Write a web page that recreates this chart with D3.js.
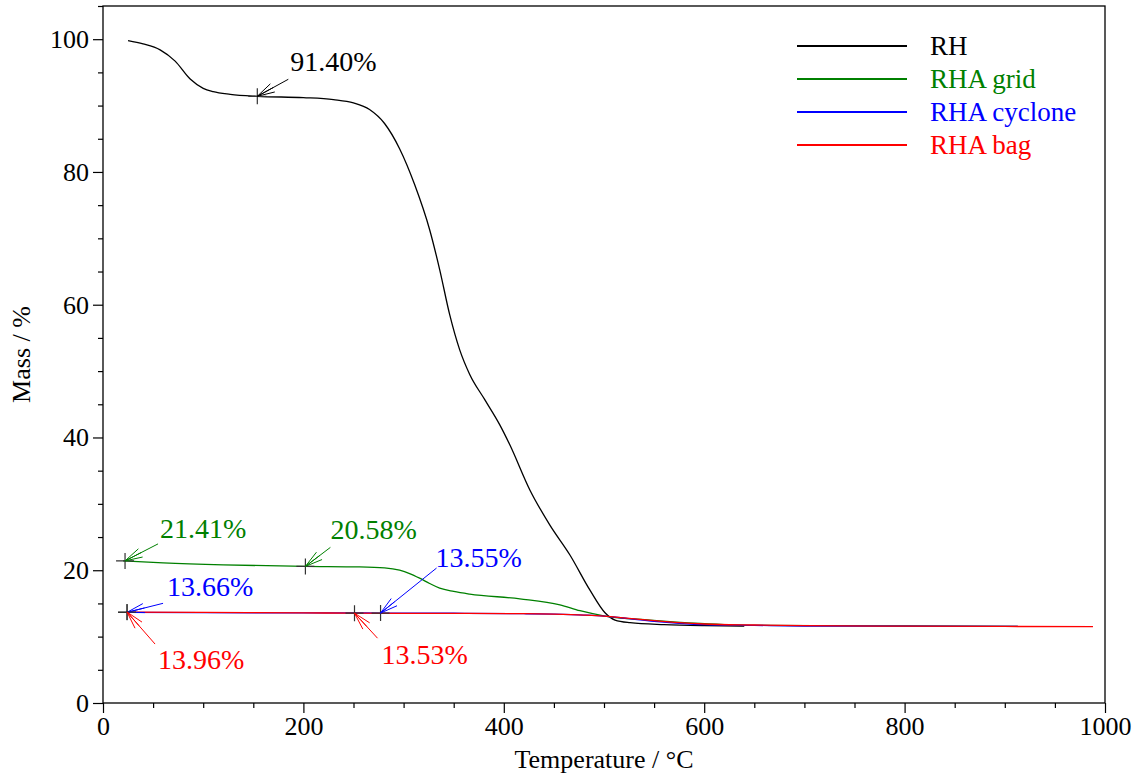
<!DOCTYPE html>
<html>
<head>
<meta charset="utf-8">
<script src="https://cdn.jsdelivr.net/npm/d3@7"></script>
<style>
  body { margin: 0; background: #fff; }
  text { font-family: "Liberation Serif", "Times New Roman", serif; }
</style>
</head>
<body>
<div id="viz"></div>
<script>
const width = 1143;
const height = 774;
const margin = {top: 6, right: 38, bottom: 71, left: 103};

// Temperature (°C) and mass (%)
const rhTemp = [25, 40, 57, 72, 87, 100, 110, 127, 154, 200, 230, 250, 266, 281, 296, 311, 326, 336, 346, 356, 366, 381, 396, 406, 426, 446, 466, 486, 501, 511, 526, 560, 600, 640];
const rhMass = [99.8, 99.3, 98.4, 96.7, 94.0, 92.6, 92.1, 91.7, 91.4, 91.2, 90.9, 90.4, 89.4, 87.3, 83.5, 78.1, 71.3, 65.3, 58.5, 53.2, 49.5, 45.7, 41.9, 38.9, 32.1, 26.8, 22.3, 17.0, 13.6, 12.5, 12.1, 11.8, 11.65, 11.6];

const gridTemp = [20, 60, 120, 202, 256, 281, 296, 306, 316, 326, 336, 350, 366, 416, 456, 476, 501, 546, 596, 650, 800, 913];
const gridMass = [21.41, 21.1, 20.8, 20.58, 20.5, 20.35, 20.0, 19.5, 18.8, 18.0, 17.3, 16.8, 16.4, 15.7, 14.8, 13.9, 13.1, 12.5, 12.0, 11.7, 11.6, 11.55];

const cycloneTemp = [23, 100, 200, 277, 350, 420, 450, 480, 500, 525, 550, 575, 600, 650, 700, 800, 913];
const cycloneMass = [13.66, 13.62, 13.58, 13.55, 13.52, 13.45, 13.38, 13.25, 13.1, 12.7, 12.3, 12.0, 11.8, 11.7, 11.6, 11.57, 11.55];

const bagTemp = [23, 100, 200, 251, 350, 420, 450, 480, 500, 525, 550, 575, 600, 650, 700, 800, 900, 988];
const bagMass = [13.7, 13.64, 13.58, 13.53, 13.5, 13.45, 13.38, 13.25, 13.1, 12.75, 12.4, 12.1, 11.9, 11.75, 11.65, 11.58, 11.53, 11.5];

const seriesNames = ['RH', 'RHA grid', 'RHA cyclone', 'RHA bag'];
const seriesColors = ['#000000', '#008000', '#0000ff', '#ff0000'];
const seriesTemps = [rhTemp, gridTemp, cycloneTemp, bagTemp];
const seriesMasses = [rhMass, gridMass, cycloneMass, bagMass];

// Marked points: temperature, mass, label, series index
const markTemp = [154, 22, 202, 277, 24, 24, 251];
const markMass = [91.4, 21.41, 20.58, 13.55, 13.66, 13.7, 13.53];
const markLabel = ['91.40%', '21.41%', '20.58%', '13.55%', '13.66%', '13.96%', '13.53%'];
const markSeries = [0, 1, 1, 2, 2, 3, 3];
// label placement relative to the marked point (pixels): text start/baseline, arrow tail
const markTextOffset = [[33, -25], [35, -23], [25, -27], [55, -46], [40, -16], [31, 57], [27, 51]];
const markTailOffset = [[31, -17], [33, -17], [25, -19], [56, -45], [36, -9], [28, 32], [23, 25]];

const xTicks = [0, 200, 400, 600, 800, 1000];
const yTicks = [0, 20, 40, 60, 80, 100];

const xScale = d3.scaleLinear()
  .domain([0, 1000])
  .range([margin.left, width - margin.right]);
const yScale = d3.scaleLinear()
  .domain([0, 105])
  .range([height - margin.bottom, margin.top]);

const svg = d3.select('#viz')
  .append('svg')
    .attr('width', width)
    .attr('height', height);

// Frame
svg.append('rect')
  .attr('x', margin.left)
  .attr('y', margin.top)
  .attr('width', width - margin.left - margin.right)
  .attr('height', height - margin.top - margin.bottom)
  .attr('fill', 'none')
  .attr('stroke', '#000')
  .attr('stroke-width', 1.3);

// Minor ticks
const xMinor = d3.range(0, 1001, 50).filter(d => d % 200 !== 0);
const yMinor = d3.range(0, 106, 5).filter(d => d % 20 !== 0);

svg.append('g')
    .attr('transform', `translate(0,${height - margin.bottom})`)
  .call(d3.axisBottom(xScale).tickValues(xMinor).tickSize(5).tickFormat(''))
  .call(g => g.select('.domain').remove());
svg.append('g')
    .attr('transform', `translate(${margin.left},0)`)
  .call(d3.axisLeft(yScale).tickValues(yMinor).tickSize(5).tickFormat(''))
  .call(g => g.select('.domain').remove());

// Major ticks
const xAxisGroup = svg.append('g')
    .attr('transform', `translate(0,${height - margin.bottom})`)
  .call(d3.axisBottom(xScale).tickValues(xTicks).tickSize(10).tickPadding(4).tickFormat(d3.format('d')))
  .call(g => g.select('.domain').remove());
xAxisGroup.selectAll('text')
  .attr('fill', '#000')
  .style('font-size', '26px')
  .style('font-family', '"Liberation Serif", serif');

const yAxisGroup = svg.append('g')
    .attr('transform', `translate(${margin.left},0)`)
  .call(d3.axisLeft(yScale).tickValues(yTicks).tickSize(10).tickPadding(4).tickFormat(d3.format('d')))
  .call(g => g.select('.domain').remove());
yAxisGroup.selectAll('text')
  .attr('fill', '#000')
  .style('font-size', '26px')
  .style('font-family', '"Liberation Serif", serif');

svg.selectAll('.tick line').attr('stroke', '#000').attr('stroke-width', 1.2);

// Axis titles
svg.append('text')
  .attr('x', (margin.left + width - margin.right) / 2)
  .attr('y', 768)
  .attr('text-anchor', 'middle')
  .style('font-size', '26px')
  .text('Temperature / °C');

svg.append('text')
  .attr('transform', `translate(30,${(margin.top + height - margin.bottom) / 2}) rotate(-90)`)
  .attr('text-anchor', 'middle')
  .style('font-size', '26px')
  .text('Mass / %');

// Curves
const line = d3.line()
  .x(d => xScale(d[0]))
  .y(d => yScale(d[1]))
  .curve(d3.curveMonotoneX);

const drawOrder = [0, 1, 2, 3];
svg.append('g')
    .attr('class', 'curve-group')
  .selectAll('path')
  .data(drawOrder)
  .join('path')
    .attr('d', i => line(seriesTemps[i].map((t, k) => [t, seriesMasses[i][k]])))
    .attr('fill', 'none')
    .attr('stroke', i => seriesColors[i])
    .attr('stroke-width', 1.3);

// Markers, arrows and labels
const markGroup = svg.append('g').attr('class', 'marks');
markTemp.forEach((t, i) => {
  const px = xScale(t);
  const py = yScale(markMass[i]);
  const color = seriesColors[markSeries[i]];
  const tail = markTailOffset[i];
  const txt = markTextOffset[i];

  // cross
  markGroup.append('path')
    .attr('d', `M${px - 9},${py}H${px + 9}M${px},${py - 8}V${py + 8}`)
    .attr('stroke', '#333')
    .attr('stroke-width', 1.2)
    .attr('fill', 'none');

  // arrow shaft
  const tx = px + tail[0];
  const ty = py + tail[1];
  markGroup.append('line')
    .attr('x1', tx).attr('y1', ty)
    .attr('x2', px).attr('y2', py)
    .attr('stroke', color)
    .attr('stroke-width', 1);

  // open arrow head
  const ang = Math.atan2(ty - py, tx - px);
  const len = 18;
  const spread = 0.26;
  const head = [ang - spread, ang, ang + spread].map(a =>
    `M${px},${py}L${px + len * Math.cos(a)},${py + len * Math.sin(a)}`).join('');
  markGroup.append('path')
    .attr('d', head)
    .attr('stroke', color)
    .attr('stroke-width', 1)
    .attr('fill', 'none');

  markGroup.append('text')
    .attr('x', px + txt[0])
    .attr('y', py + txt[1])
    .attr('fill', color)
    .style('font-size', '28px')
    .text(markLabel[i]);
});

// Legend
const legend = svg.append('g').attr('class', 'legend');
seriesNames.forEach((name, i) => {
  const y = 46 + i * 33;
  legend.append('line')
    .attr('x1', 797).attr('x2', 907)
    .attr('y1', y).attr('y2', y)
    .attr('stroke', seriesColors[i])
    .attr('stroke-width', 2);
  legend.append('text')
    .attr('x', 930)
    .attr('y', y + 9)
    .attr('fill', seriesColors[i])
    .style('font-size', '27px')
    .text(name);
});
</script>
</body>
</html>
